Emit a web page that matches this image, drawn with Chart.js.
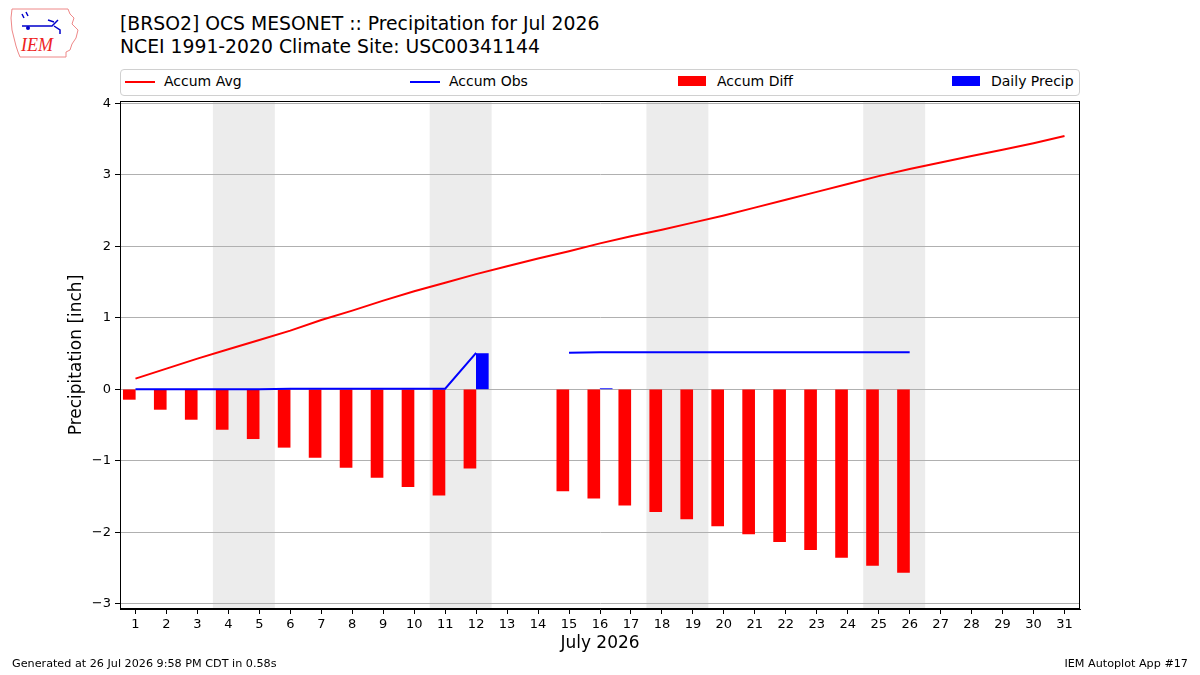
<!DOCTYPE html>
<html>
<head>
<meta charset="utf-8">
<script src="https://cdn.jsdelivr.net/npm/chart.js@4"></script>
<style>
  body { margin: 0; background: #fff; font-family: "DejaVu Sans", sans-serif; }
  #wrap { position: relative; width: 1200px; height: 675px; overflow: hidden; }
  #chart { position: absolute; left: 0; top: 0; }
  .title { position: absolute; left: 120px; font-size: 18.8px; color: #000; white-space: nowrap; }
  #legend { position: absolute; left: 120px; top: 69px; width: 958px; height: 25px; border: 1px solid #d0d0d0; border-radius: 4px; background: rgba(255,255,255,0.8); }
  .item { position: absolute; top: 3px; font-size: 14px; white-space: nowrap; }
  .sw { position: absolute; }
  .foot { position: absolute; top: 657px; font-size: 11.2px; white-space: nowrap; }
</style>
</head>
<body>
<div id="wrap">
  <svg style="position:absolute;left:8px;top:6px" width="72" height="54" viewBox="0 0 72 54">
    <path d="M4 3 L60 3 L62 8 L66 12 L64 18 L70 24 L68 32 L64 38 L62 44 L58 46 L58 51 L12 51 L10 46 L8 40 L6 32 L4 24 L3 12 Z" fill="none" stroke="#e88" stroke-width="1"/>
    <path d="M14 8 L16 12 M18 6 L20 10 M14 20 L44 20 L50 14 M46 20 L52 24 L52 28 M40 14 L46 16" stroke="#00c" stroke-width="1.5" fill="none"/>
    <circle cx="20" cy="22" r="2" fill="#00c"/>
    <text x="13" y="45" font-family="Liberation Serif, serif" font-style="italic" font-size="18" fill="#e22">IEM</text>
  </svg>
  <div class="title" style="top:13px">[BRSO2] OCS MESONET :: Precipitation for Jul 2026</div>
  <div class="title" style="top:36px">NCEI 1991-2020 Climate Site: USC00341144</div>
  <div id="legend"></div>
  <canvas id="chart" width="1200" height="675"></canvas>
  <div class="foot" style="left:12px">Generated at 26 Jul 2026 9:58 PM CDT in 0.58s</div>
  <div class="foot" style="right:12px">IEM Autoplot App #17</div>
</div>
<script>
// Data (inches)
const days = [1,2,3,4,5,6,7,8,9,10,11,12,13,14,15,16,17,18,19,20,21,22,23,24,25,26,27,28,29,30,31];
const accumAvg = [0.15,0.29,0.43,0.56,0.69,0.82,0.97,1.10,1.24,1.37,1.49,1.61,1.72,1.83,1.93,2.04,2.14,2.23,2.33,2.43,2.54,2.65,2.76,2.87,2.98,3.08,3.17,3.26,3.35,3.44,3.54];
const accumObs = [0,0,0,0,0,0.01,0.01,0.01,0.01,0.01,0.01,0.51,null,null,0.51,0.52,0.52,0.52,0.52,0.52,0.52,0.52,0.52,0.52,0.52,0.52];
const accumDiff = [-0.14,-0.28,-0.42,-0.56,-0.69,-0.81,-0.95,-1.09,-1.23,-1.36,-1.48,-1.10,null,null,-1.42,-1.52,-1.62,-1.71,-1.81,-1.91,-2.02,-2.13,-2.24,-2.35,-2.46,-2.56];
const dailyPrecip = [0,0,0,0,0,0,0,0,0,0,0,0.50,null,null,0,0.01,0,0,0,0,0,0,0,0,0,0];
const weekends = [[3.5,5.5],[10.5,12.5],[17.5,19.5],[24.5,26.5]];
const yTicks = [-3,-2,-1,0,1,2,3,4];

// zero-height bars are left out so they don't leave a hairline at 0
const pts = (arr, shift, skipZero) => arr.map((v, i) => ({x: days[i] + shift, y: (skipZero && v === 0) ? null : v}));

// Weekend shading and black frame
const framePlugin = {
  id: 'frame',
  beforeDraw(chart) {
    const {ctx, chartArea, scales} = chart;
    ctx.save();
    ctx.fillStyle = '#ececec';
    weekends.forEach(w => {
      const x0 = scales.x.getPixelForValue(w[0]);
      const x1 = scales.x.getPixelForValue(w[1]);
      ctx.fillRect(x0, chartArea.top, x1 - x0, chartArea.bottom - chartArea.top);
    });
    ctx.restore();
  },
  afterDatasetsDraw(chart) {
    const {ctx, chartArea} = chart;
    ctx.save();
    ctx.strokeStyle = '#000';
    ctx.lineWidth = 1;
    ctx.strokeRect(chartArea.left + 0.5, chartArea.top + 0.5, chartArea.right - chartArea.left - 1, chartArea.bottom - chartArea.top - 1);
    ctx.restore();
  }
};

Chart.defaults.font.family = '"DejaVu Sans", sans-serif';
Chart.defaults.color = '#000';

const chart = new Chart(document.getElementById('chart'), {
  type: 'bar',
  data: {
    datasets: [
      { type: 'line', label: 'Accum Avg', data: pts(accumAvg, 0), borderColor: '#ff0000', borderWidth: 2, pointRadius: 0, tension: 0 },
      { type: 'line', label: 'Accum Obs', data: pts(accumObs, 0), borderColor: '#0000ff', borderWidth: 2, pointRadius: 0, tension: 0, spanGaps: false },
      { label: 'Accum Diff', data: pts(accumDiff, -0.2), backgroundColor: '#ff0000', barThickness: 12, grouped: false },
      { label: 'Daily Precip', data: pts(dailyPrecip, 0.2, true), backgroundColor: '#0000ff', barThickness: 12, grouped: false }
    ]
  },
  options: {
    responsive: false,
    animation: false,
    layout: { padding: { left: 0, right: 120, top: 101, bottom: 0 } },
    plugins: { legend: { display: false }, tooltip: { enabled: false } },
    scales: {
      x: {
        type: 'linear', min: 0.5, max: 31.5, offset: false,
        grid: { display: true, drawOnChartArea: false, offset: false, tickLength: 5, tickColor: '#000' },
        border: { color: '#000' },
        ticks: { font: { size: 13 }, padding: 3, maxRotation: 0 },
        afterBuildTicks: s => { s.ticks = days.map(v => ({value: v})); },
        afterFit: s => { s.height = 66; },
        title: { display: true, text: 'July 2026', font: { size: 17 }, padding: { top: 0, bottom: 21 } }
      },
      y: {
        min: -3.07, max: 4.03,
        grid: { color: '#b0b0b0', tickLength: 5, tickColor: '#000' },
        border: { color: '#000' },
        ticks: { font: { size: 13 }, padding: 4, callback: v => String(v).replace('-', '\u2212') },
        afterBuildTicks: s => { s.ticks = yTicks.map(v => ({value: v})); },
        afterFit: s => { s.width = 120; },
        title: { display: true, text: 'Precipitation [inch]', font: { size: 17 }, padding: { top: 66, bottom: 0 } }
      }
    }
  },
  plugins: [framePlugin]
});

// Legend in matplotlib "expand" style: four evenly spread entries
const legend = document.getElementById('legend');
const legendLeft = [4, 289, 557, 831];
chart.data.datasets.forEach((ds, i) => {
  const color = ds.borderColor || ds.backgroundColor;
  const sw = document.createElement('div');
  sw.className = 'sw';
  if (ds.type === 'line') {
    sw.style.cssText = 'left:' + legendLeft[i] + 'px;top:11px;width:30px;height:2px;background:' + color;
  } else {
    sw.style.cssText = 'left:' + legendLeft[i] + 'px;top:6px;width:28px;height:10px;background:' + color;
  }
  legend.appendChild(sw);
  const t = document.createElement('div');
  t.className = 'item';
  t.style.left = (legendLeft[i] + 39) + 'px';
  t.textContent = ds.label;
  legend.appendChild(t);
});
</script>
</body>
</html>
